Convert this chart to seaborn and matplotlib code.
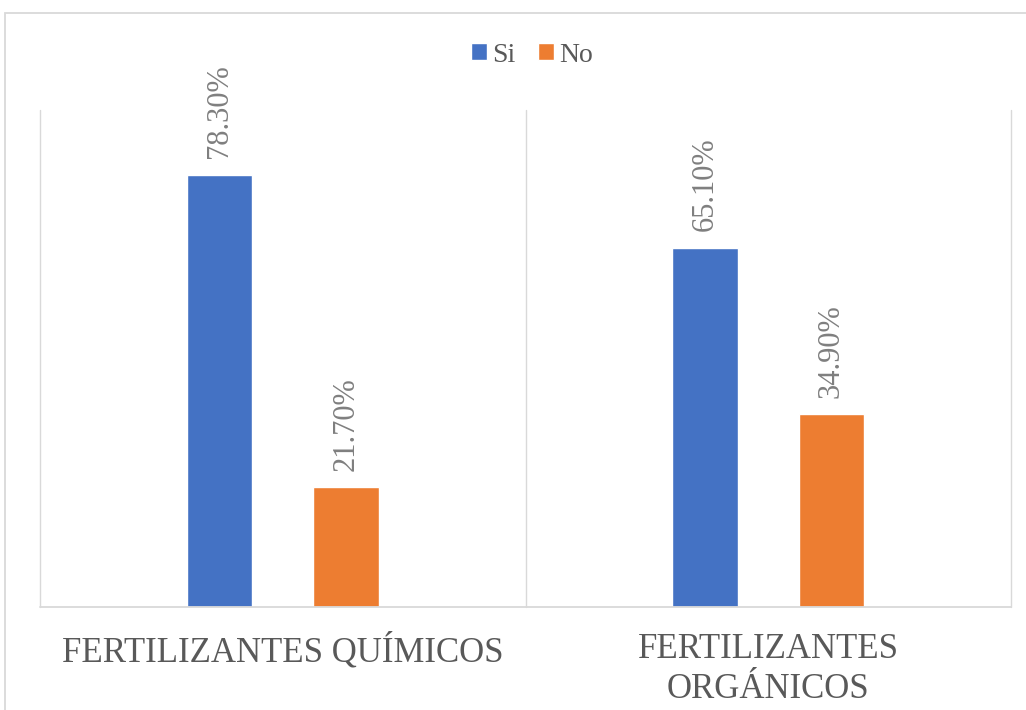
import matplotlib
matplotlib.use("Agg")
import matplotlib.pyplot as plt
import seaborn as sns
import pandas as pd
from matplotlib.patches import Rectangle
from matplotlib.font_manager import FontProperties

# Survey results: use of chemical / organic fertilizers
categorias = ["FERTILIZANTES QUÍMICOS", "FERTILIZANTES\nORGÁNICOS"]
respuestas = ["Si", "No"]
si = [78.3, 65.1]
no = [21.7, 34.9]
colores = ["#4472C4", "#ED7D31"]

df = pd.DataFrame({
    "categoria": categorias * 2,
    "respuesta": [respuestas[0]] * len(categorias) + [respuestas[1]] * len(categorias),
    "porcentaje": si + no,
})

sns.set_theme(style="white")
serif = ["Liberation Serif", "DejaVu Serif"]
plt.rcParams["font.family"] = serif

W, H = 1026, 710
fig = plt.figure(figsize=(W / 100, H / 100), dpi=100)
ax = fig.add_axes([40 / W, 103 / H, 971 / W, 497 / H])

sns.barplot(
    data=df, x="categoria", y="porcentaje", hue="respuesta",
    hue_order=respuestas, palette=colores, saturation=1,
    width=0.52, gap=0.48, ax=ax, legend=True,
)

ax.set_xlim(-0.5, 1.5)
ax.set_ylim(0, 90.1)

# value labels above the bars, rotated
for cont in ax.containers:
    ax.bar_label(
        cont, labels=[f"{v:.2f}%" for v in cont.datavalues],
        rotation=90, padding=12, fontsize=22, color="#7f7f7f", family=serif,
    )

for s in ax.spines.values():
    s.set_visible(False)
ax.axhline(0, color="#d9d9d9", lw=1.3, clip_on=False)
for xv in (-0.5, 0.5, 1.5):
    ax.axvline(xv, color="#d9d9d9", lw=1.0, clip_on=False)

ax.set_yticks([])
ax.set_xlabel("")
ax.set_ylabel("")
ax.set_xticks(range(len(categorias)))
ax.set_xticklabels(categorias, family=serif, fontsize=25, color="#595959",
                   linespacing=1.25)
ax.tick_params(axis="x", length=0, pad=19)

ax.legend(
    loc="center", bbox_to_anchor=(532 / W, 1 - 55 / H), bbox_transform=fig.transFigure,
    ncol=2, frameon=False, prop=FontProperties(family=serif, size=20),
    handlelength=0.58, handleheight=0.58,
    handletextpad=0.2, columnspacing=0.8, labelcolor="#595959",
)

# outer chart border
fig.add_artist(Rectangle((5 / W, -0.05), 1.1, 1 - 13 / H + 0.05,
                         transform=fig.transFigure, fill=False,
                         edgecolor="#d9d9d9", lw=1.3))

fig.savefig("out.png", dpi=100)
